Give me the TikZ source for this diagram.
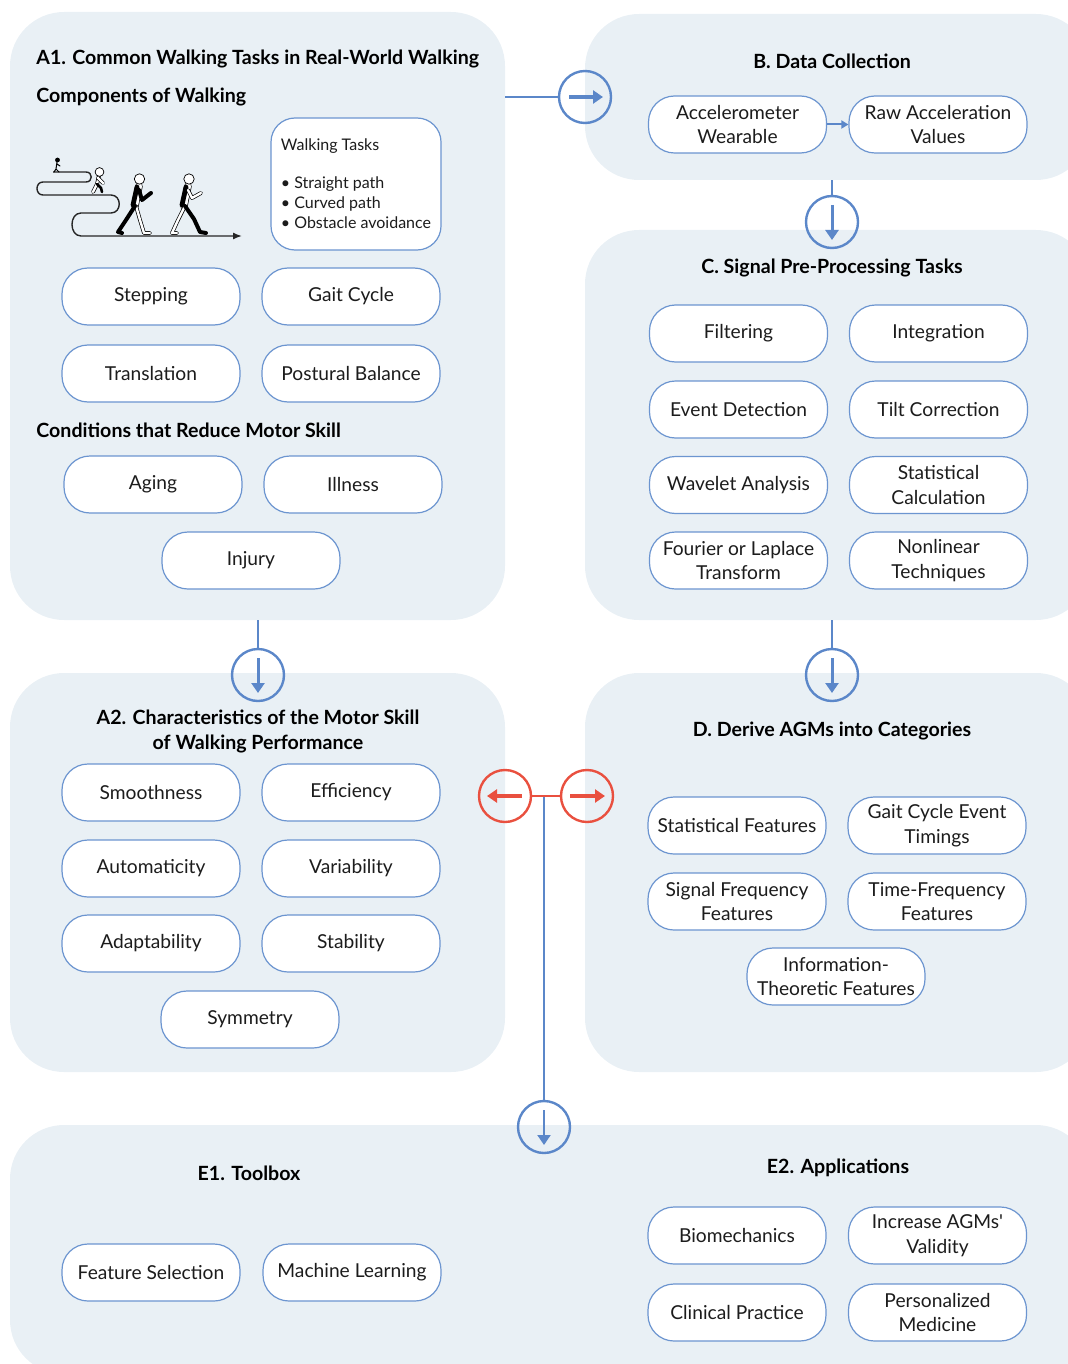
\documentclass[tikz,border=0pt]{standalone}
\usepackage{fontspec}
\setmainfont{Lato}
\usetikzlibrary{arrows.meta,shapes.misc}
\definecolor{panelc}{HTML}{E9F0F5}
\definecolor{bluec}{HTML}{5B87C9}
\definecolor{pillc}{HTML}{6C95D0}
\definecolor{redc}{HTML}{E9503F}
\definecolor{txtc}{HTML}{1C1C1C}
\tikzset{
 panel/.style={fill=panelc, draw=none, rounded corners=27pt, inner sep=0pt},
 pill/.style={draw=pillc, fill=white, line width=0.6pt, rounded corners=13pt,
   minimum width=89pt, minimum height=28.5pt, inner sep=1pt, align=center,
   font=\fontsize{9.6}{12.2}\selectfont, text=txtc},
 head/.style={font=\bfseries\fontsize{9.8}{12.5}\selectfont, align=center, text=black, inner sep=0pt},
 bcirc/.style={circle, draw=bluec, line width=1.2pt, minimum size=26pt, inner sep=0pt},
 rcirc/.style={circle, draw=redc, line width=1.2pt, minimum size=26pt, inner sep=0pt},
 bline/.style={draw=bluec, line width=1pt},
 rline/.style={draw=redc, line width=1pt},
 barrow/.style={draw=bluec, line width=2pt, -{Triangle[length=5pt,width=6.5pt]}},
 rarrow/.style={draw=redc, line width=2pt, -{Triangle[length=5pt,width=6.5pt]}},
 wlimb/.style={draw=black, double=white, double distance=1.2pt, line width=0.35pt, line cap=round, line join=round},
 blimb/.style={draw=black, line width=2pt, line cap=round, line join=round},
}
\begin{document}
\begin{tikzpicture}[x=0.5pt,y=-0.5pt]
\useasboundingbox (0,0) rectangle (1068,1364);
\clip (0,0) rectangle (1068,1364);

% ---------- panels ----------
\node[panel, minimum width=247.5pt, minimum height=304pt] (A1) at (257.5,316) {};
\node[panel, minimum width=252.5pt, minimum height=83pt] (B) at (837.5,97) {};
\node[panel, minimum width=252.5pt, minimum height=195pt] (C) at (837.5,425) {};
\node[panel, minimum width=247.5pt, minimum height=199.5pt] (A2) at (257.5,872.5) {};
\node[panel, minimum width=252.5pt, minimum height=199.5pt] (D) at (837.5,872.5) {};
\node[panel, minimum width=540pt, minimum height=124.5pt] (E) at (550,1249.5) {};

% ---------- A1 ----------
\node[head, anchor=west] (tA1) at (36,59) {A1. Common Walking Tasks in Real-World Walking};
\node[head, anchor=west] (tA1b) at (36,97) {Components of Walking};
\node[head, anchor=west] (tA1c) at (36,430) {Conditions that Reduce Motor Skill};

% walking illustration
\draw[line width=0.7pt, draw=black!85, -{Latex[length=4.5pt,width=3.5pt]}]
  (53,172) -- (86,172) .. controls (93,172) and (93,182) .. (86,182)
  -- (43,182) .. controls (35,182) and (35,195) .. (43,195)
  -- (111,195) .. controls (122,195) and (122,213) .. (111,213)
  -- (81,213) .. controls (69,213) and (69,236) .. (81,236) -- (242,236);
% tiny walker
\draw[line width=0.5pt, line cap=round] (57,162) -- (56,169) -- (54,172) (56,169) -- (59,172) (57,164) -- (60,166);
\fill (57.5,160) circle (1.2pt);
% small walker
\draw[wlimb] (99,176) -- (97,184) -- (93,192);
\draw[blimb, line width=1.3pt] (97,184) -- (101,188) -- (102,192);
\draw[wlimb] (98,178) -- (103,183);
\draw[black, fill=white, line width=0.35pt] (99.5,172) circle (2.2pt);
% walker 3
\draw[wlimb, double distance=3pt] (139,186) -- (135,206);
\draw[blimb, line width=2.4pt] (137,187) -- (133,205);
\draw[wlimb] (136,206) -- (140,220) -- (144,233) -- (150,233);
\draw[blimb] (135,206) -- (126,220) -- (118,232) -- (122,233);
\draw[blimb] (139,190) -- (142,200) -- (151,193);
\draw[black, fill=white, line width=0.35pt] (139.5,179) circle (2.6pt);
% walker 4
\draw[wlimb, double distance=3pt] (188,186) -- (184,206);
\draw[blimb, line width=2.4pt] (186,187) -- (182,205);
\draw[wlimb] (185,206) -- (178,220) -- (172,233) -- (177,233);
\draw[blimb] (185,206) -- (194,219) -- (200,232) -- (206,233);
\draw[wlimb] (188,190) -- (192,198) -- (201,193);
\draw[black, fill=white, line width=0.35pt] (189,179) circle (2.6pt);

% walking tasks box
\node[draw=pillc, fill=white, line width=0.6pt, rounded corners=12pt,
  minimum width=85pt, minimum height=66pt, inner xsep=4pt,
  align=left, font=\fontsize{8}{10}\selectfont, text=txtc] (WT) at (356,184)
  {Walking Tasks\\[9pt]\textbullet\ Straight path\\\textbullet\ Curved path\\\textbullet\ Obstacle avoidance};

\node[pill] (step) at (151,296.5) {Stepping};
\node[pill] (gait) at (351,296.5) {Gait Cycle};
\node[pill] (trans) at (151,373.5) {Translation};
\node[pill] (post) at (351,373.5) {Postural Balance};
\node[pill] (aging) at (153,484.5) {Aging};
\node[pill] (ill) at (353,484.5) {Illness};
\node[pill] (inj) at (251,560.5) {Injury};

% ---------- B ----------
\node[head] (tB) at (832,61) {B. Data Collection};
\node[pill] (acc) at (737.5,124.5) {Accelerometer\\Wearable};
\node[pill] (raw) at (938,124.5) {Raw Acceleration\\Values};
\draw[draw=bluec, line width=1pt, -{Triangle[length=3.5pt,width=4pt]}] (acc.east) -- (raw.west);

% ---------- C ----------
\node[head] (tC) at (832,268) {C. Signal Pre-Processing Tasks};
\node[pill] (filt) at (738.5,333.5) {Filtering};
\node[pill] (integ) at (938.5,333.5) {Integration};
\node[pill] (evt) at (738.5,409.5) {Event Detection};
\node[pill] (tilt) at (938.5,409.5) {Tilt Correction};
\node[pill] (wav) at (738.5,485) {Wavelet Analysis};
\node[pill] (stat) at (938.5,485) {Statistical\\Calculation};
\node[pill] (four) at (738.5,560.5) {Fourier or Laplace\\Transform};
\node[pill] (nonl) at (938.5,560.5) {Nonlinear\\Techniques};

% ---------- A2 ----------
\node[head] (tA2) at (258,731) {A2. Characteristics of the Motor Skill\\of Walking Performance};
\node[pill] (smooth) at (151,792.5) {Smoothness};
\node[pill] (eff) at (351,792.5) {Efficiency};
\node[pill] (auto) at (151,868.5) {Automaticity};
\node[pill] (var) at (351,868.5) {Variability};
\node[pill] (adapt) at (151,943.5) {Adaptability};
\node[pill] (stab) at (351,943.5) {Stability};
\node[pill] (sym) at (250,1019.5) {Symmetry};

% ---------- D ----------
\node[head] (tD) at (832,731) {D. Derive AGMs into Categories};
\node[pill] (sf) at (737,825.5) {Statistical Features};
\node[pill] (gce) at (937,825.5) {Gait Cycle Event\\Timings};
\node[pill] (sff) at (737,901.5) {Signal Frequency\\Features};
\node[pill] (tff) at (937,901.5) {Time-Frequency\\Features};
\node[pill] (itf) at (836,976.5) {Information-\\Theoretic Features};

% ---------- E ----------
\node[head] (tE1) at (249,1173) {E1. Toolbox};
\node[head] (tE2) at (838,1168) {E2. Applications};
\node[pill] (fs) at (151,1272.5) {Feature Selection};
\node[pill] (ml) at (352,1272.5) {Machine Learning};
\node[pill] (bio) at (737,1235.5) {Biomechanics};
\node[pill] (val) at (937.5,1235.5) {Increase AGMs\textquotesingle\\Validity};
\node[pill] (clin) at (737,1312.5) {Clinical Practice};
\node[pill] (pers) at (937.5,1312.5) {Personalized\\Medicine};

% ---------- connectors ----------
\node[bcirc] (c1) at (585,97) {};
\node[bcirc] (c2) at (832,222) {};
\node[bcirc] (c3) at (832,675) {};
\node[bcirc] (c4) at (258,675) {};
\node[bcirc] (c5) at (544,1127) {};
\node[rcirc] (r1) at (505,796) {};
\node[rcirc] (r2) at (587,796) {};
\coordinate (junc) at (544,796);

\draw[bline] (A1.east |- c1) -- (c1.west);
\draw[bline] (c2 |- B.south) -- (c2.north);
\draw[bline] (c3 |- C.south) -- (c3.north);
\draw[bline] (c4 |- A1.south) -- (c4.north);
\draw[bline] (junc) -- (c5.north);
\draw[rline] (r1.east) -- (r2.west);

\draw[barrow] ([xshift=-8pt]c1.center) -- ([xshift=9pt]c1.center);
\draw[barrow, line width=1.5pt] ([yshift=8.5pt]c2.center) -- ([yshift=-9pt]c2.center);
\draw[barrow, line width=1.5pt] ([yshift=8.5pt]c3.center) -- ([yshift=-9pt]c3.center);
\draw[barrow, line width=1.5pt] ([yshift=8.5pt]c4.center) -- ([yshift=-9pt]c4.center);
\draw[barrow, line width=1pt] ([yshift=8.5pt]c5.center) -- ([yshift=-9pt]c5.center);
\draw[rarrow] ([xshift=8.5pt]r1.center) -- ([xshift=-9pt]r1.center);
\draw[rarrow] ([xshift=-8.5pt]r2.center) -- ([xshift=9pt]r2.center);
\end{tikzpicture}
\end{document}
